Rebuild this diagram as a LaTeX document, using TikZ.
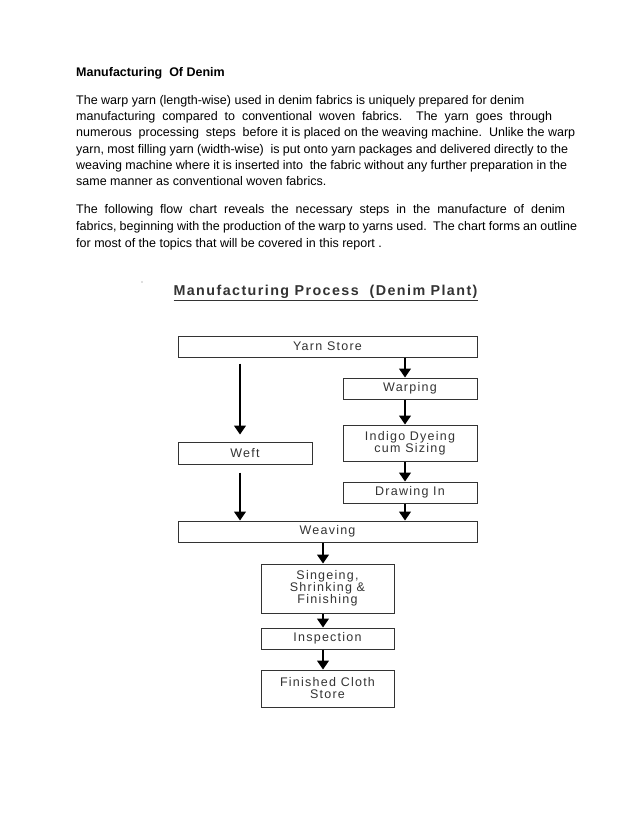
\documentclass[tikz,border=0pt]{standalone}
\usepackage{fontspec}
\setmainfont{Liberation Sans}
\newfontfamily\chartfont[LetterSpace=10]{Liberation Sans}
\usetikzlibrary{arrows.meta}
\definecolor{chartgray}{HTML}{333333}

\tikzset{
  bodyline/.style={anchor=base west, inner sep=0pt, font=\fontsize{12.5}{15}\selectfont},
  procbox/.style={draw=chartgray, line width=1pt, inner sep=0pt, align=center, text=chartgray,
    font=\chartfont\fontsize{12.5}{12}\selectfont},
  flow/.style={-{Triangle[width=12pt,length=9pt]}, line width=1.2pt, black},
}
\newcommand{\fillline}[2]{\makebox[#1pt][s]{#2}}

\begin{document}
\begin{tikzpicture}[x=1pt,y=-1pt]
\useasboundingbox (0,0) rectangle (638,826);
% heading and text
\node[bodyline,font=\bfseries\fontsize{12.5}{15}\selectfont] (head) at (76,77) {Manufacturing\ \ Of Denim};
\node[bodyline] (l1) at (76,105) {The warp yarn (length-wise) used in denim fabrics is uniquely prepared for denim};
\node[bodyline] (l2) at (76,121) {\fillline{476}{manufacturing compared to conventional woven fabrics.\ \ The yarn goes through}};
\node[bodyline] (l3) at (76,137) {\fillline{499}{numerous\ \ processing\ \ steps\ \ before it is placed on the weaving machine.\ \ Unlike the warp}};
\node[bodyline] (l4) at (76,154) {\fillline{492}{yarn, most filling yarn (width-wise)\ \ is put onto yarn packages and delivered directly to the}};
\node[bodyline] (l5) at (76,170) {\fillline{491}{weaving machine where it is inserted into\ \ the fabric without any further preparation in the}};
\node[bodyline] (l6) at (76,186) {same manner as conventional woven fabrics.};
\node[bodyline] (l7) at (76,214) {\fillline{489}{The following flow chart reveals the necessary steps in the manufacture of denim}};
\node[bodyline] (l8) at (76,230) {\fillline{501}{fabrics, beginning with the production of the warp to yarns used.\ \ The chart forms an outline}};
\node[bodyline] (l9) at (76,247) {for most of the topics that will be covered in this report .};

% chart
\fill[gray!50] (142,282) circle[radius=0.8];
\node[text=chartgray, inner sep=0pt, font=\chartfont\bfseries\fontsize{14.3}{16}\selectfont] (title) at (325.5,293)
  {\underline{Manufacturing Process\ \ (Denim Plant)}};

\node[procbox, minimum width=299pt, minimum height=21pt] (yarn)   at (327.5,346.5) {Yarn Store};
\node[procbox, minimum width=134pt, minimum height=21pt] (warp)   at (410,388.5)   {Warping};
\node[procbox, minimum width=134pt, minimum height=36pt] (indigo) at (410,443)     {Indigo Dyeing\\cum Sizing};
\node[procbox, minimum width=134pt, minimum height=21pt] (drawin) at (410,492.5)   {Drawing In};
\node[procbox, minimum width=134pt, minimum height=22pt] (weft)   at (245,453)     {Weft};
\node[procbox, minimum width=299pt, minimum height=21pt] (weave)  at (327.5,531.5) {Weaving};
\node[procbox, minimum width=133pt, minimum height=49pt] (singe)  at (327.5,588.5) {Singeing,\\Shrinking \&\\Finishing};
\node[procbox, minimum width=133pt, minimum height=21pt] (insp)   at (327.5,638.5) {Inspection};
\node[procbox, minimum width=133pt, minimum height=37pt] (finish) at (327.5,688.5) {Finished Cloth\\Store};

% arrows
\draw[flow] ([xshift=-5pt]yarn.south -| warp.north) -- ([xshift=-5pt]warp.north);
\draw[flow] ([xshift=-5pt]warp.south) -- ([xshift=-5pt]indigo.north);
\draw[flow] ([xshift=-5pt]indigo.south) -- ([xshift=-5pt]drawin.north);
\draw[flow] ([xshift=-5pt]drawin.south) -- ([xshift=-5pt]weave.north -| drawin.south);
\draw[flow, shorten <=6pt, shorten >=7pt] ([xshift=-5pt]yarn.south -| weft.north) -- ([xshift=-5pt]weft.north);
\draw[flow, shorten <=8pt] ([xshift=-5pt]weft.south) -- ([xshift=-5pt]weave.north -| weft.south);
\draw[flow] ([xshift=-4.5pt]weave.south) -- ([xshift=-4.5pt]singe.north);
\draw[flow] ([xshift=-4.5pt]singe.south) -- ([xshift=-4.5pt]insp.north);
\draw[flow] ([xshift=-4.5pt]insp.south) -- ([xshift=-4.5pt]finish.north);
\end{tikzpicture}
\end{document}
